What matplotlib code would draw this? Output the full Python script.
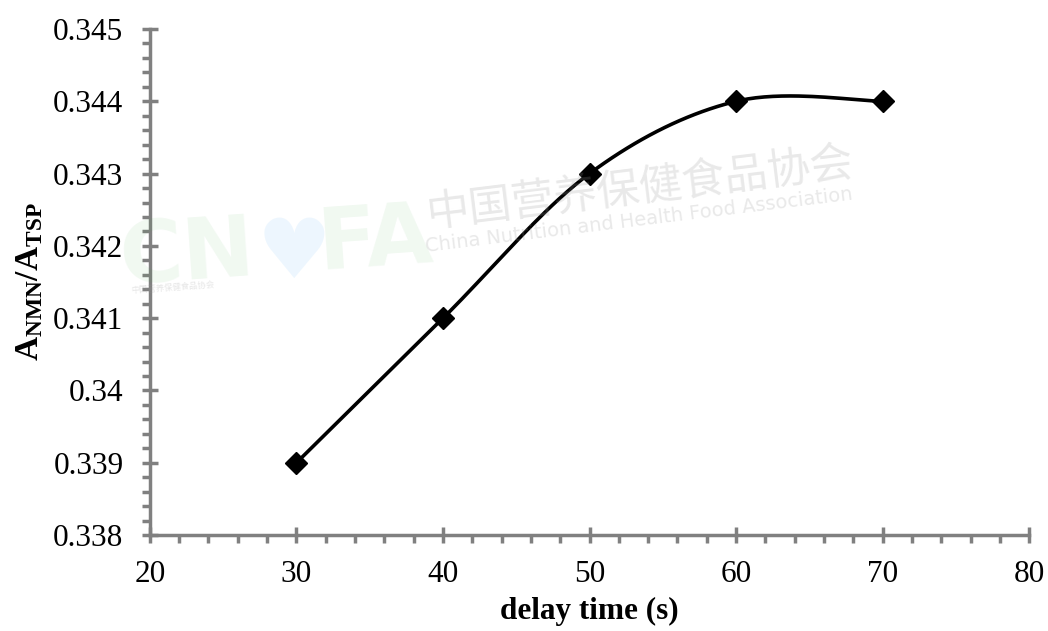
import numpy as np
import matplotlib.pyplot as plt
from matplotlib.ticker import MultipleLocator, FormatStrFormatter

# data
delay_time = [30, 40, 50, 60, 70]
ratio = [0.339, 0.341, 0.343, 0.344, 0.344]

plt.rcParams['font.family'] = ['Liberation Serif', 'DejaVu Serif']
plt.rcParams['mathtext.fontset'] = 'custom'
plt.rcParams['mathtext.rm'] = 'Liberation Serif'
plt.rcParams['mathtext.bf'] = 'Liberation Serif:bold'


# Excel-like smoothed line (Catmull-Rom style bezier through the points)
def smooth_curve(xs, ys, n=40):
    xs = np.asarray(xs, float)
    ys = np.asarray(ys, float)
    px, py = [], []
    for i in range(len(xs) - 1):
        x0, y0 = (xs[i - 1], ys[i - 1]) if i > 0 else (xs[i], ys[i])
        x3, y3 = (xs[i + 2], ys[i + 2]) if i + 2 < len(xs) else (xs[i + 1], ys[i + 1])
        x1, y1 = xs[i], ys[i]
        x2, y2 = xs[i + 1], ys[i + 1]
        c1x, c1y = x1 + (x2 - x0) / 6, y1 + (y2 - y0) / 6
        c2x, c2y = x2 - (x3 - x1) / 6, y2 - (y3 - y1) / 6
        t = np.linspace(0, 1, n)
        px.extend((1 - t) ** 3 * x1 + 3 * (1 - t) ** 2 * t * c1x + 3 * (1 - t) * t ** 2 * c2x + t ** 3 * x2)
        py.extend((1 - t) ** 3 * y1 + 3 * (1 - t) ** 2 * t * c1y + 3 * (1 - t) * t ** 2 * c2y + t ** 3 * y2)
    return px, py


fig = plt.figure(figsize=(10.48, 6.31), dpi=100)
ax = fig.add_axes([0.143, 0.152, 0.839, 0.802])

# watermark
fig.text(0.112, 0.55, 'CN', fontsize=62, fontweight='bold', color='#4caf50', alpha=0.08,
         family='DejaVu Sans', rotation=4)
fig.text(0.245, 0.56, '\u2665', fontsize=60, color='#2196f3', alpha=0.08, family='DejaVu Sans')
fig.text(0.3, 0.575, 'FA', fontsize=62, fontweight='bold', color='#4caf50', alpha=0.08,
         family='DejaVu Sans', rotation=4)
fig.text(0.125, 0.535, '中国营养保健食品协会', fontsize=6, color='#999999', alpha=0.25,
         family=['Noto Sans CJK SC'], rotation=4)
fig.text(0.405, 0.64, '中国营养保健食品协会', fontsize=31, color='#999999', alpha=0.22,
         family=['Noto Sans CJK SC'], rotation=7)
fig.text(0.405, 0.6, 'China Nutrition and Health Food Association', fontsize=14, color='#999999',
         alpha=0.22, family='DejaVu Sans', rotation=7)

sx, sy = smooth_curve(delay_time, ratio)
ax.plot(sx, sy, color='black', lw=2.6, zorder=3)
ax.plot(delay_time, ratio, 'D', color='black', markersize=11, zorder=4)

ax.set_xlim(20, 80)
ax.set_ylim(0.338, 0.345)
ax.xaxis.set_major_locator(MultipleLocator(10))
ax.xaxis.set_minor_locator(MultipleLocator(2))
ax.yaxis.set_major_locator(MultipleLocator(0.001))
ax.yaxis.set_minor_locator(MultipleLocator(0.0002))
ax.yaxis.set_major_formatter(FormatStrFormatter('%g'))

for side in ['top', 'right']:
    ax.spines[side].set_visible(False)
for side in ['left', 'bottom']:
    ax.spines[side].set_color('#808080')
    ax.spines[side].set_linewidth(2.5)

ax.tick_params(which='major', direction='inout', length=12, width=2.5, color='#808080',
               labelsize=22.5, pad=6)
ax.tick_params(which='minor', direction='out', length=6, width=2.5, color='#808080')
ax.tick_params(axis='x', which='major', pad=12)
ax.tick_params(axis='y', which='major', pad=13)

ax.set_xlabel('delay time (s)', fontsize=22.5, fontweight='bold', labelpad=6)
ax.set_ylabel(r'$\mathbf{A_{NMN}/A_{TSP}}$', fontsize=24, labelpad=6)

fig.savefig('out.png', dpi=100)
